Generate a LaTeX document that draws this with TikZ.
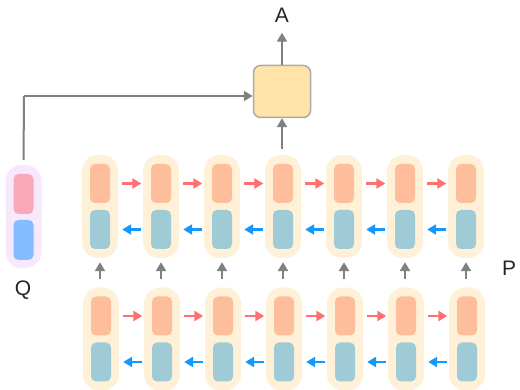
\documentclass[tikz,border=0pt]{standalone}
\usepackage{fontspec}
\setmainfont{Liberation Sans}
\usetikzlibrary{arrows.meta}
\definecolor{cream}{HTML}{FFF1D8}
\definecolor{orng}{HTML}{FFBE9B}
\definecolor{teal2}{HTML}{9ECBD5}
\definecolor{redar}{HTML}{FF7070}
\definecolor{bluear}{HTML}{1199FF}
\definecolor{grayar}{HTML}{808080}
\definecolor{lav}{HTML}{F8E8FC}
\definecolor{pinkq}{HTML}{F9A9BA}
\definecolor{blueq}{HTML}{85BBFF}
\definecolor{boxfill}{HTML}{FFE3A8}
\definecolor{boxdraw}{HTML}{ABABA3}
\tikzset{
  cellbox/.style={draw=none, fill=cream, minimum width=36pt, minimum height=103pt, rounded corners=16pt, inner sep=0pt},
  qbox/.style={cellbox, fill=lav},
  innerbox/.style={draw=none, minimum width=20pt, minimum height=39pt, rounded corners=5pt, inner sep=0pt},
  tip/.style={-{Triangle[length=9pt,width=10pt]}},
  redarr/.style={tip, draw=redar, line width=2.6pt, shorten <=4pt, shorten >=1.5pt},
  bluearr/.style={tip, draw=bluear, line width=2.6pt, shorten <=1.5pt, shorten >=4pt},
  grayarr/.style={tip, draw=grayar, line width=2.6pt},
  lbl/.style={font=\fontsize{21}{21}\selectfont, text=black!85, inner sep=0pt}
}
\begin{document}
\begin{tikzpicture}[x=1pt,y=-1pt]
\useasboundingbox (0,0) rectangle (520,390);
% columns
\foreach \i/\x in {1/100,2/161,3/222,4/283,5/344,6/405,7/466}{
  \node[cellbox] (t\i) at (\x,206.5) {};
  \node[innerbox, fill=orng] (to\i) at (\x,183.5) {};
  \node[innerbox, fill=teal2] (tb\i) at (\x,229.5) {};
  \node[cellbox] (b\i) at (\x+1,339) {};
  \node[innerbox, fill=orng] (bo\i) at (\x+1,316) {};
  \node[innerbox, fill=teal2] (bb\i) at (\x+1,362) {};
}
\foreach \i/\j in {1/2,2/3,3/4,4/5,5/6,6/7}{
  \draw[redarr] (t\i.east |- to\i.center) -- (t\j.west |- to\i.center);
  \draw[bluearr] (t\j.west |- tb\i.center) -- (t\i.east |- tb\i.center);
  \draw[redarr] (b\i.east |- bo\i.center) -- (b\j.west |- bo\i.center);
  \draw[bluearr] (b\j.west |- bb\i.center) -- (b\i.east |- bb\i.center);
}
\foreach \i in {1,...,7}{
  \draw[grayarr, shorten <=8pt, shorten >=4pt] (t\i.south |- b\i.north) -- (t\i.south);
}
% Q
\node[qbox] (q) at (23.5,216.5) {};
\node[innerbox, fill=pinkq, minimum height=40pt] (qp) at (23.5,194) {};
\node[innerbox, fill=blueq, minimum height=40pt] (qb) at (23.5,240) {};
\node[lbl] (ql) at (23,290) {Q};
\node[lbl] (pl) at (509,268) {P};
% box
\node[draw=boxdraw, fill=boxfill, line width=1.5pt, minimum width=57pt, minimum height=52pt, rounded corners=7pt, inner sep=0pt] (box) at (282,91.5) {};
\node[lbl] (al) at (282,15) {A};
\coordinate (corner) at (24,96);
\draw[grayar, line width=2pt, shorten <=5pt] (q.north) -- (corner);
\draw[grayarr, line width=2pt] (corner) -- (box.west |- corner);
\draw[grayarr, shorten <=6pt] (t4.north -| box.south) -- (box.south);
\draw[grayarr] (box.north) -- ([yshift=32pt]box.north) coordinate (atop);
\end{tikzpicture}
\end{document}
